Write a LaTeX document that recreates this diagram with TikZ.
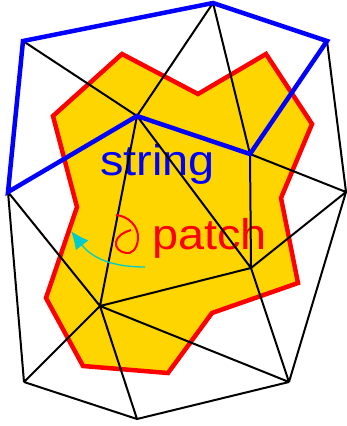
\documentclass[tikz,border=0pt]{standalone}
\usepackage{fontspec}
\setmainfont{Liberation Sans}
\newfontfamily\lblfont[FakeStretch=1.09]{Liberation Sans}
\usepackage{tikz}
\usetikzlibrary{arrows.meta}
\definecolor{patchfill}{HTML}{FFD500}
\definecolor{patchred}{HTML}{FF0000}
\definecolor{stringblue}{HTML}{0000FF}
\definecolor{arrowcyan}{HTML}{00CCCC}
\tikzset{
  edge/.style={line width=2pt,black},
  stringline/.style={line width=4.5pt,color=stringblue,line join=miter},
  patchline/.style={line width=4.5pt,draw=patchred,fill=patchfill,line join=miter},
  lbl/.style={inner sep=0pt,anchor=base west,font=\lblfont\fontsize{43}{43}\selectfont},
  curl/.style={line width=2pt,color=patchred},
  curlarr/.style={-{Latex[length=18pt,width=16pt]},line width=1.3pt,color=arrowcyan}
}

\begin{document}
\begin{tikzpicture}[x=1pt,y=-1pt]
  \useasboundingbox (0,0) rectangle (347,426);
  % mesh vertices
  \coordinate (A) at (23,41);
  \coordinate (B) at (213,3);
  \coordinate (C) at (327,41);
  \coordinate (D) at (8,192);
  \coordinate (E) at (137,116);
  \coordinate (F) at (250,154);
  \coordinate (G) at (346,192);
  \coordinate (H) at (100,306);
  \coordinate (I) at (251,268);
  \coordinate (J) at (24,382);
  \coordinate (K) at (137,419);
  \coordinate (L) at (289,382);
  % patch
  \draw[patchline] (122,54) -- (198,94) -- (266,54) -- (312,124) -- (281,198)
    -- (298,283) -- (212,313) -- (168,373) -- (83,366) -- (46,298) -- (77,207)
    -- (53,116) -- cycle;
  \node[lbl,text=stringblue] (str) at (100,175) {string};
  \node[lbl,text=patchred] (pat) at (152,249) {patch};
  % triangles
  \draw[edge] (A)--(E) (B)--(E) (B)--(F) (C)--(G) (F)--(G) (E)--(H) (E)--(I)
    (F)--(I) (G)--(I) (G)--(L) (I)--(L) (D)--(H) (D)--(J) (H)--(J) (H)--(K)
    (H)--(I) (H)--(L) (J)--(K) (K)--(L);
  % string
  \draw[stringline] (D)--(A)--(B)--(C)--(F)--(E)--cycle;
  % curl and arrow
  \draw[curl] (116,215) .. controls (128,216) and (139,226) .. (138,239)
    .. controls (137,250) and (131,254) .. (126,253)
    .. controls (119,252) and (115,247) .. (116,242)
    .. controls (117,236) and (124,232) .. (131,230);
  \coordinate (tail) at (145,267);
  \coordinate (tip) at (71,231);
  \draw[curlarr] (tail) .. controls (112,267) and (92,258) .. (tip);
\end{tikzpicture}
\end{document}
